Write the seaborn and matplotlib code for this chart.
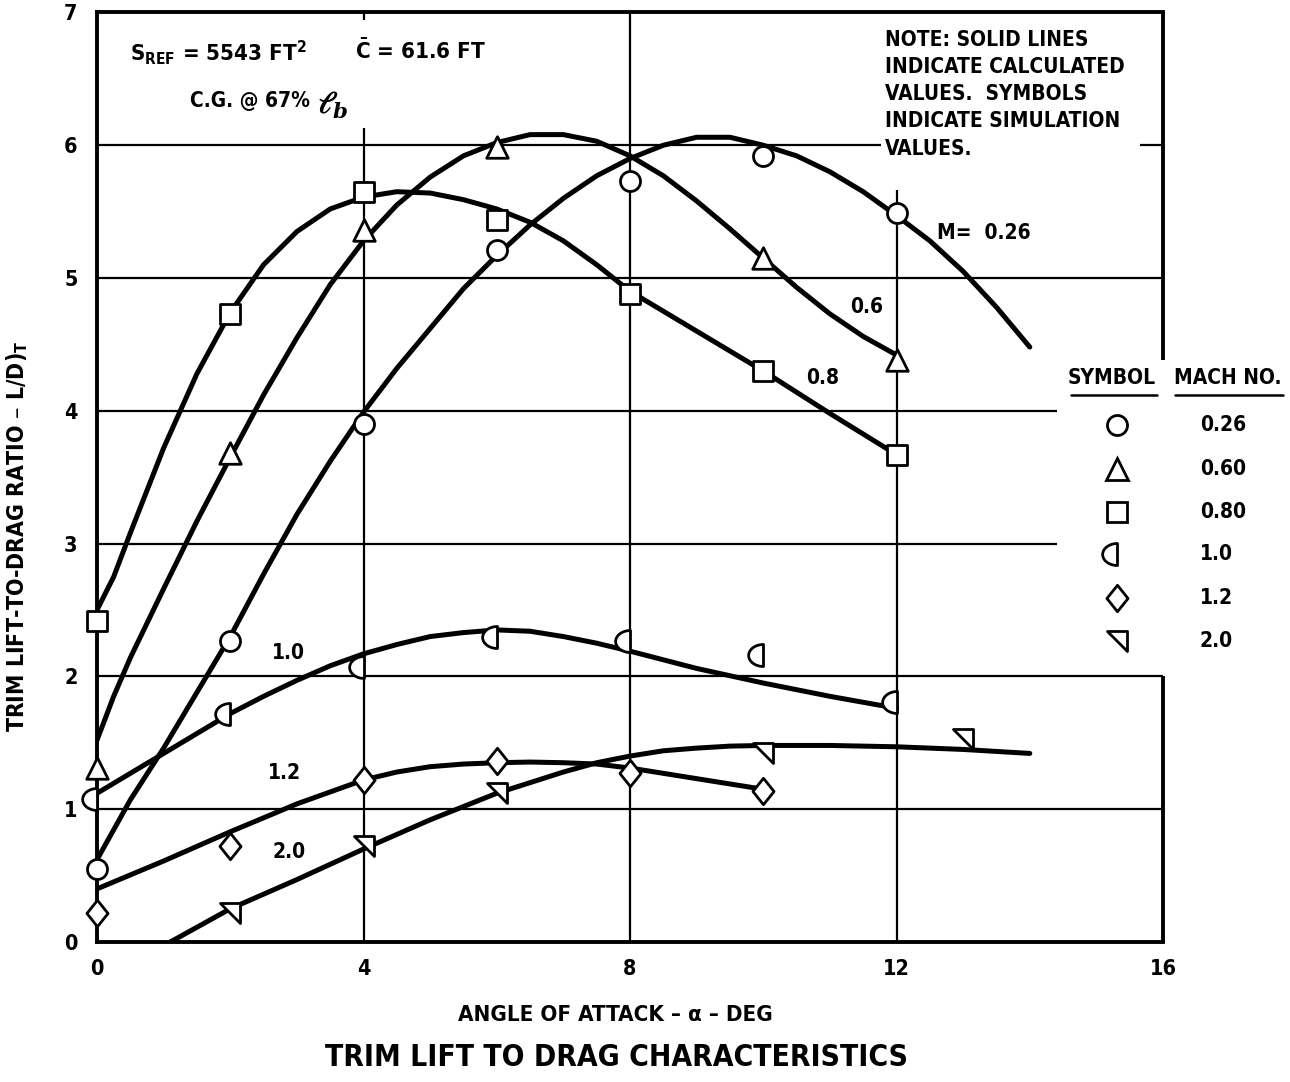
import numpy as np
import pandas as pd
import matplotlib
matplotlib.use("Agg")
import matplotlib.pyplot as plt
from matplotlib.path import Path
import seaborn as sns

sns.set_style("white")
plt.rcParams['font.family'] = ['DejaVu Sans']
plt.rcParams['font.stretch'] = 'condensed'
plt.rcParams['font.weight'] = 'bold'
plt.rcParams['axes.labelweight'] = 'bold'
plt.rcParams['mathtext.default'] = 'regular'
for key in ['text.color', 'axes.labelcolor', 'xtick.color', 'ytick.color']:
    plt.rcParams[key] = 'black'

# Mach numbers (legend labels)
mach_labels = ['0.26', '0.60', '0.80', '1.0', '1.2', '2.0']

# simulation values (symbols)
sym_026_x = [0, 2, 4, 6, 8, 10, 12]
sym_026_y = [0.55, 2.27, 3.9, 5.21, 5.73, 5.92, 5.49]
sym_060_x = [0, 2, 4, 6, 10, 12]
sym_060_y = [1.31, 3.68, 5.36, 5.99, 5.15, 4.38]
sym_080_x = [0, 2, 4, 6, 8, 10, 12]
sym_080_y = [2.42, 4.73, 5.65, 5.44, 4.88, 4.3, 3.67]
sym_10_x = [0, 2, 4, 6, 8, 10, 12]
sym_10_y = [1.08, 1.72, 2.07, 2.3, 2.27, 2.16, 1.81]
sym_12_x = [0, 2, 4, 6, 8, 10]
sym_12_y = [0.22, 0.72, 1.22, 1.36, 1.27, 1.14]
sym_20_x = [2, 4, 6, 10, 13]
sym_20_y = [0.22, 0.72, 1.12, 1.42, 1.53]

# calculated values (solid lines)
calc_026_x = [0, 0.5, 1, 1.5, 2, 2.5, 3, 3.5, 4, 4.5, 5, 5.5, 6, 6.5, 7, 7.5, 8, 8.5, 9, 9.5,
              10, 10.5, 11, 11.5, 12, 12.5, 13, 13.5, 14]
calc_026_y = [0.62, 1.07, 1.46, 1.88, 2.3, 2.77, 3.22, 3.62, 3.99, 4.32, 4.62, 4.92, 5.17, 5.4,
              5.6, 5.77, 5.9, 6.0, 6.06, 6.06, 6.0, 5.92, 5.8, 5.65, 5.47, 5.28, 5.05, 4.78, 4.48]
calc_060_x = [0, 0.25, 0.5, 1, 1.5, 2, 2.5, 3, 3.5, 4, 4.5, 5, 5.5, 6, 6.5, 7, 7.5, 8, 8.5, 9,
              9.5, 10, 10.5, 11, 11.5, 12]
calc_060_y = [1.52, 1.85, 2.14, 2.66, 3.17, 3.65, 4.12, 4.55, 4.95, 5.28, 5.55, 5.76, 5.92, 6.02,
              6.08, 6.08, 6.03, 5.92, 5.77, 5.58, 5.37, 5.15, 4.93, 4.73, 4.56, 4.42]
calc_080_x = [0, 0.25, 0.5, 0.75, 1, 1.5, 2, 2.5, 3, 3.5, 4, 4.5, 5, 5.5, 6, 6.5, 7, 7.5, 8, 9,
              10, 11, 12]
calc_080_y = [2.5, 2.75, 3.08, 3.4, 3.72, 4.28, 4.74, 5.1, 5.35, 5.52, 5.61, 5.65, 5.64, 5.59,
              5.52, 5.42, 5.28, 5.1, 4.9, 4.6, 4.3, 3.98, 3.67]
calc_10_x = [0, 0.5, 1, 1.5, 2, 2.5, 3, 3.5, 4, 4.5, 5, 5.5, 6, 6.5, 7, 7.5, 8, 9, 10, 11, 12]
calc_10_y = [1.12, 1.27, 1.42, 1.57, 1.72, 1.85, 1.97, 2.08, 2.17, 2.24, 2.3, 2.33, 2.35, 2.34,
             2.3, 2.25, 2.19, 2.06, 1.95, 1.85, 1.76]
calc_12_x = [0, 1, 2, 3, 3.5, 4, 4.5, 5, 5.5, 6, 6.5, 7, 7.5, 8, 9, 10]
calc_12_y = [0.4, 0.61, 0.83, 1.04, 1.13, 1.22, 1.28, 1.32, 1.34, 1.35, 1.355, 1.35, 1.34, 1.31,
             1.23, 1.15]
calc_20_x = [1.1, 2, 3, 4, 5, 6, 6.5, 7, 7.5, 8, 8.5, 9, 9.5, 10, 11, 12, 13, 14]
calc_20_y = [0.0, 0.25, 0.47, 0.7, 0.92, 1.12, 1.2, 1.28, 1.35, 1.4, 1.44, 1.46, 1.475, 1.48,
             1.48, 1.47, 1.45, 1.42]

# custom symbols: half circle (flat side right), diamond, right triangle
arc = Path.arc(90, 270)
half_circle = Path(np.vstack([arc.vertices * [1.35, 1.0], [[0, 1]]]),
                   list(arc.codes) + [Path.CLOSEPOLY])
diamond = Path([(0, 1), (0.8, 0), (0, -1), (-0.8, 0), (0, 1)],
               [Path.MOVETO, Path.LINETO, Path.LINETO, Path.LINETO, Path.CLOSEPOLY])
right_tri = Path([(-1, 1), (1, 1), (1, -1), (-1, 1)],
                 [Path.MOVETO, Path.LINETO, Path.LINETO, Path.CLOSEPOLY])

markers = ['o', '^', 's', half_circle, diamond, right_tri]
msizes = [14.4, 15.5, 14.4, 21.4, 19, 15]

sym_x = [sym_026_x, sym_060_x, sym_080_x, sym_10_x, sym_12_x, sym_20_x]
sym_y = [sym_026_y, sym_060_y, sym_080_y, sym_10_y, sym_12_y, sym_20_y]
calc_x = [calc_026_x, calc_060_x, calc_080_x, calc_10_x, calc_12_x, calc_20_x]
calc_y = [calc_026_y, calc_060_y, calc_080_y, calc_10_y, calc_12_y, calc_20_y]

curves = pd.concat([pd.DataFrame({'alpha': cx, 'ld': cy, 'mach': m})
                    for cx, cy, m in zip(calc_x, calc_y, mach_labels)])

fig = plt.figure(figsize=(12.9, 10.82), dpi=100)
ax = fig.add_axes([0.0752, 0.1294, 0.8264, 0.8591])

# partial grid (the chart leaves room for notes and legend)
glw = 1.6
ax.hlines([1, 2, 5], 0, 16, color='black', lw=glw, zorder=1)
ax.hlines([3, 4], 0, 14.41, color='black', lw=glw, zorder=1)
ax.hlines(6, 0, 11.76, color='black', lw=glw, zorder=1)
ax.hlines(6, 15.66, 16, color='black', lw=glw, zorder=1)
ax.vlines(4, 0, 6.13, color='black', lw=glw, zorder=1)
ax.vlines(4, 6.94, 7, color='black', lw=glw, zorder=1)
ax.vlines(8, 0, 7, color='black', lw=glw, zorder=1)
ax.vlines(12, 0, 5.66, color='black', lw=glw, zorder=1)
ax.vlines(16, 4.38, 7, color='black', lw=2.8, zorder=3, clip_on=False)
ax.vlines(16, 0, 2, color='black', lw=2.8, zorder=3, clip_on=False)

sns.lineplot(data=curves, x='alpha', y='ld', units='mach', estimator=None,
             sort=False, color='black', lw=3.6, ax=ax, zorder=4)

for xs, ys, mk, ms in zip(sym_x, sym_y, markers, msizes):
    sns.scatterplot(x=xs, y=ys, marker=mk, s=ms ** 2, color='white',
                    edgecolor='black', linewidth=2.0, ax=ax, zorder=5, clip_on=False)

ax.set_xlim(0, 16)
ax.set_ylim(0, 7)
ax.set_xticks([0, 4, 8, 12, 16])
ax.set_yticks(range(8))
ax.tick_params(length=0, labelsize=15.5)
ax.tick_params(axis='x', pad=12)
ax.tick_params(axis='y', pad=14)
for side in ['left', 'bottom', 'top']:
    ax.spines[side].set_linewidth(2.8)
    ax.spines[side].set_color('black')
ax.spines['right'].set_visible(False)

ax.set_xlabel('ANGLE OF ATTACK – α – DEG', fontsize=16)
ax.xaxis.set_label_coords(0.486, -0.068)
ax.set_ylabel('TRIM LIFT-TO-DRAG RATIO – L/D)$_T$', fontsize=16.5)
ax.yaxis.set_label_coords(-0.063, 0.436)

# curve labels
ax.text(12.61, 5.34, 'M=  0.26', fontsize=15, va='center')
ax.text(11.3, 4.78, '0.6', fontsize=15, va='center')
ax.text(10.65, 4.25, '0.8', fontsize=15, va='center')
ax.text(2.63, 2.18, '1.0', fontsize=15, va='center')
ax.text(2.57, 1.27, '1.2', fontsize=15, va='center')
ax.text(2.63, 0.68, '2.0', fontsize=15, va='center')

# reference data notes
ax.text(0.5, 6.70, 'S$_{REF}$ = 5543 FT$^2$', fontsize=16, va='center')
ax.text(3.87, 6.71, r'$\bar{C}$ = 61.6 FT', fontsize=16, va='center')
ax.text(1.4, 6.33, 'C.G. @ 67%', fontsize=15, va='center')
ax.text(3.3, 6.30, r'$\ell_b$', fontsize=22, va='center', family='DejaVu Serif',
        style='italic', stretch='normal')
ax.text(11.82, 6.87, 'NOTE: SOLID LINES\nINDICATE CALCULATED\nVALUES.  SYMBOLS\n'
        'INDICATE SIMULATION\nVALUES.', fontsize=15, va='top', linespacing=1.45)

# symbol legend
fig.text(0.862, 0.6506, 'SYMBOL', fontsize=15, ha='center', va='center')
fig.text(0.952, 0.6506, 'MACH NO.', fontsize=15, ha='center', va='center')
fig.add_artist(plt.Line2D([0.830, 0.897], [0.635, 0.635], color='black', lw=1.8))
fig.add_artist(plt.Line2D([0.911, 0.9946], [0.635, 0.635], color='black', lw=1.8))
rows_py = [425, 469, 512, 554, 598, 641]
for py, mk, ms, lab in zip(rows_py, markers, msizes, mach_labels):
    fy = 1 - py / 1082
    ax.plot([0.8659], [fy], marker=mk, markersize=ms, mfc='white', mec='black', mew=2.0,
            transform=fig.transFigure, clip_on=False, ls='none')
    fig.text(0.9302, fy, lab, fontsize=15, va='center')

fig.text(0.478, 0.0231, 'TRIM LIFT TO DRAG CHARACTERISTICS', fontsize=21.5,
         ha='center', va='center')

fig.savefig('out.png', dpi=100)
